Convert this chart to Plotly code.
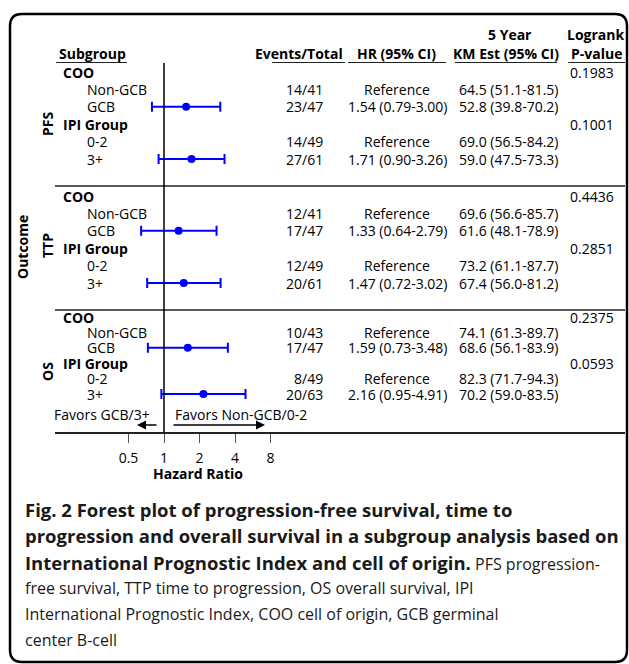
import math
import plotly.graph_objects as go

# ---------------- data ----------------
outcomes = ["PFS", "TTP", "OS"]
groups = ["COO", "IPI Group"]
levels = ["Non-GCB", "GCB", "0-2", "3+"]

events = [14, 23, 14, 27, 12, 17, 12, 20, 10, 17, 8, 20]
totals = [41, 47, 49, 61, 41, 47, 49, 61, 43, 47, 49, 63]
hr = [None, 1.54, None, 1.71, None, 1.33, None, 1.47, None, 1.59, None, 2.16]
hr_lo = [None, 0.79, None, 0.90, None, 0.64, None, 0.72, None, 0.73, None, 0.95]
hr_hi = [None, 3.00, None, 3.26, None, 2.79, None, 3.02, None, 3.48, None, 4.91]
km = [64.5, 52.8, 69.0, 59.0, 69.6, 61.6, 73.2, 67.4, 74.1, 68.6, 82.3, 70.2]
km_lo = [51.1, 39.8, 56.5, 47.5, 56.6, 48.1, 61.1, 56.0, 61.3, 56.1, 71.7, 59.0]
km_hi = [81.5, 70.2, 84.2, 73.3, 85.7, 78.9, 87.7, 81.2, 89.7, 83.9, 94.3, 83.5]
pvals = [0.1983, 0.1001, 0.4436, 0.2851, 0.2375, 0.0593]
hr_ticks = [0.5, 1, 2, 4, 8]
hr_ticktext = ["0.5", "1", "2", "4", "8"]

caption = [
    "<b>Fig. 2 Forest plot of progression-free survival, time to</b>",
    "<b>progression and overall survival in a subgroup analysis based on</b>",
    "<b>International Prognostic Index and cell of origin.</b> PFS progression-",
    "free survival, TTP time to progression, OS overall survival, IPI",
    "International Prognostic Index, COO cell of origin, GCB germinal",
    "center B-cell",
]

# ---------------- layout geometry (pixels) ----------------
W, H = 629, 664
FONT = "Open Sans"
FS = 14
CAP_BOLD, CAP_REG = 18.5, 16
panel_first = [72, 196, 317]
panel_step = [17.4, 17.4, 15.4]
outcome_label_y = [124, 246, 372]
sep_y = [186, 310]
axis_y = 433
x_left, x_right = 55, 625
x_one, px_per_decade = 164, 117.93


def px(x):
    return x / W


def row_y(i, r):
    return panel_first[i] + r * panel_step[i]


level_rows = [1, 2, 4, 5]

hr_x, hr_y, ep, em = [], [], [], []
for i in range(len(outcomes)):
    for k in range(4):
        idx = i * 4 + k
        if hr[idx] is not None:
            hr_x.append(hr[idx])
            hr_y.append(row_y(i, level_rows[k]))
            ep.append(hr_hi[idx] - hr[idx])
            em.append(hr[idx] - hr_lo[idx])

fig = go.Figure()
fig.add_trace(go.Scatter(
    x=hr_x, y=hr_y, mode="markers",
    marker=dict(color="#0000FF", size=8),
    error_x=dict(type="data", symmetric=False, array=ep, arrayminus=em,
                 color="#0000FF", thickness=2, width=5),
    hoverinfo="skip", showlegend=False,
))

ann = []


def text(x, y, s, anchor="left", size=FS, bold=False, color="#000", angle=0, family=FONT):
    ann.append(dict(
        x=px(x), y=y, xref="paper", yref="y", text=(f"<b>{s}</b>" if bold else s),
        showarrow=False, xanchor=anchor, yanchor="middle",
        font=dict(family=family, size=size, color=color), textangle=angle,
    ))


# headers
text(57, 53, "Subgroup", bold=True)
text(345, 53, "Events/Total", anchor="right", bold=True)
text(396, 53, "HR (95% CI)", anchor="center", bold=True)
text(510, 34, "5 Year", anchor="center", bold=True)
text(506, 53, "KM Est (95% CI)", anchor="center", bold=True)
text(596, 34, "Logrank", anchor="center", bold=True)
text(596, 53, "P-value", anchor="center", bold=True)

shapes = []


def hline(x0, x1, y, w=1.5, color="#222"):
    shapes.append(dict(type="line", xref="paper", yref="y", x0=px(x0), x1=px(x1),
                       y0=y, y1=y, line=dict(color=color, width=w)))


for (a, b) in [(56, 127), (272, 345), (348, 446), (455, 557), (568, 625)]:
    hline(a, b, 62.5, w=1.2)

# body
for i, oc in enumerate(outcomes):
    text(47, outcome_label_y[i], oc, anchor="center", bold=True, angle=-90)
    for g in range(2):
        gy = row_y(i, g * 3)
        text(61, gy, groups[g], bold=True)
        text(568, gy, f"{pvals[i * 2 + g]:.4f}")
    for k in range(4):
        idx = i * 4 + k
        y = row_y(i, level_rows[k])
        text(85, y, levels[k])
        text(325, y, f"{events[idx]}/{totals[idx]}", anchor="right")
        hr_txt = "Reference" if hr[idx] is None else f"{hr[idx]:.2f} ({hr_lo[idx]:.2f}-{hr_hi[idx]:.2f})"
        text(397, y, hr_txt, anchor="center")
        text(457, y, f"{km[idx]:.1f} ({km_lo[idx]:.1f}-{km_hi[idx]:.1f})")

text(22, 247, "Outcome", anchor="center", bold=True, angle=-90)

# favors labels + arrows
text(152, 414, "Favors GCB/3+", anchor="right")
text(173, 414, "Favors Non-GCB/0-2")
for (hx, tx) in [(137, 158), (265, 172)]:
    ann.append(dict(x=px(hx), y=425, xref="paper", yref="y", ax=tx - hx, ay=0,
                    axref="pixel", ayref="pixel", text="", showarrow=True,
                    arrowhead=2, arrowsize=1.2, arrowwidth=1.5, arrowcolor="#000"))

# axis title
text(198, 473, "Hazard Ratio", anchor="center", bold=True)

# caption
cap_y = [509, 535.5, 562, 588, 614, 640]
for j, line in enumerate(caption):
    if j == 2:
        line = (f'<span style="font-size:{CAP_BOLD}px"><b>International Prognostic Index and cell of origin.</b></span>'
                ' PFS progression-')
    ann.append(dict(x=px(23), y=cap_y[j], xref="paper", yref="y", text=line,
                    showarrow=False, xanchor="left", yanchor="middle",
                    font=dict(family=FONT, size=CAP_REG if j >= 2 else CAP_BOLD, color="#1a1a1a")))

for y in sep_y:
    hline(x_left, x_right, y)

shapes.append(dict(type="line", xref="x", yref="y", x0=1, x1=1, y0=63, y1=axis_y,
                   line=dict(color="#000", width=1.5)))

x0, x1, y0, y1, r = 10, 627, 14, 662, 12
path = (f"M {px(x0 + r)},{y0} L {px(x1 - r)},{y0} Q {px(x1)},{y0} {px(x1)},{y0 + r} "
        f"L {px(x1)},{y1 - r} Q {px(x1)},{y1} {px(x1 - r)},{y1} "
        f"L {px(x0 + r)},{y1} Q {px(x0)},{y1} {px(x0)},{y1 - r} "
        f"L {px(x0)},{y0 + r} Q {px(x0)},{y0} {px(x0 + r)},{y0} Z")
shapes.append(dict(type="path", xref="paper", yref="y", path=path,
                   line=dict(color="#000", width=2.5)))

lo_dec = (x_left - x_one) / px_per_decade
hi_dec = (x_right - x_one) / px_per_decade

fig.update_layout(
    width=W, height=H, margin=dict(l=0, r=0, t=0, b=0),
    paper_bgcolor="white", plot_bgcolor="rgba(0,0,0,0)",
    showlegend=False,
    xaxis=dict(type="log", domain=[px(x_left), px(x_right)], range=[lo_dec, hi_dec],
               anchor="free", position=1 - axis_y / H,
               showline=True, linecolor="#222", linewidth=1.5,
               ticks="outside", ticklen=9, tickwidth=1, tickcolor="#555",
               tickvals=hr_ticks, ticktext=hr_ticktext, ticklabelstandoff=3,
               tickfont=dict(family=FONT, size=FS, color="#000"),
               showgrid=False, zeroline=False, fixedrange=True),
    yaxis=dict(range=[H, 0], domain=[0, 1], visible=False, fixedrange=True),
    annotations=ann, shapes=shapes,
)

fig.write_html("out.html", config={"displayModeBar": False},
               post_script="document.body.style.margin='0px';")
